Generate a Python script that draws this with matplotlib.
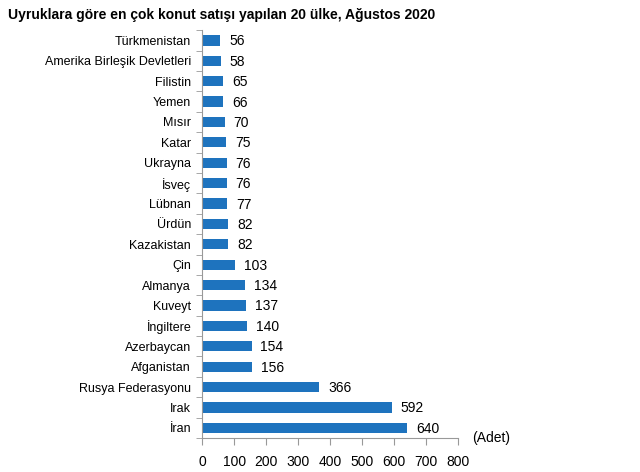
import matplotlib.pyplot as plt

plt.rcParams['font.family'] = ['Liberation Sans', 'DejaVu Sans']

countries = ['Türkmenistan', 'Amerika Birleşik Devletleri', 'Filistin', 'Yemen', 'Mısır',
             'Katar', 'Ukrayna', 'İsveç', 'Lübnan', 'Ürdün', 'Kazakistan', 'Çin',
             'Almanya', 'Kuveyt', 'İngiltere', 'Azerbaycan', 'Afganistan',
             'Rusya Federasyonu', 'Irak', 'İran']
sales = [56, 58, 65, 66, 70, 75, 76, 76, 77, 82, 82, 103, 134, 137, 140, 154, 156, 366, 592, 640]
xticks = [0, 100, 200, 300, 400, 500, 600, 700, 800]

fig = plt.figure(figsize=(6.4, 4.72), dpi=100)
ax = fig.add_axes([0.316, 0.072, 0.4, 0.864])

pos = list(range(len(countries)))
ax.barh(pos, sales, height=0.5, color='#1E73BE')
for p, v in zip(pos, sales):
    ax.text(v + 28, p + 0.05, str(v), va='center', ha='left', fontsize=10)

ax.set_ylim(len(countries) - 0.5, -0.5)
ax.set_xlim(0, 800)
ax.set_xticks(xticks)
ax.set_yticks(pos)
ax.set_yticklabels(countries, fontsize=9)
ax.tick_params(axis='y', length=0, pad=8)
ax.set_yticks([p + 0.5 for p in range(-1, len(countries))], minor=True)
ax.tick_params(axis='y', which='minor', length=4, color='#999999')
ax.tick_params(axis='x', labelsize=10, length=5, color='#999999', pad=7)

for s in ['top', 'right']:
    ax.spines[s].set_visible(False)
for s in ['left', 'bottom']:
    ax.spines[s].set_color('#999999')
    ax.spines[s].set_linewidth(0.8)

fig.text(0.737, 0.073, '(Adet)', fontsize=10, ha='left', va='center')
fig.text(0.012, 0.968, 'Uyruklara göre en çok konut satışı yapılan 20 ülke, Ağustos 2020',
         fontsize=10, fontweight='bold', ha='left', va='center')

fig.savefig('out.png', dpi=100)
